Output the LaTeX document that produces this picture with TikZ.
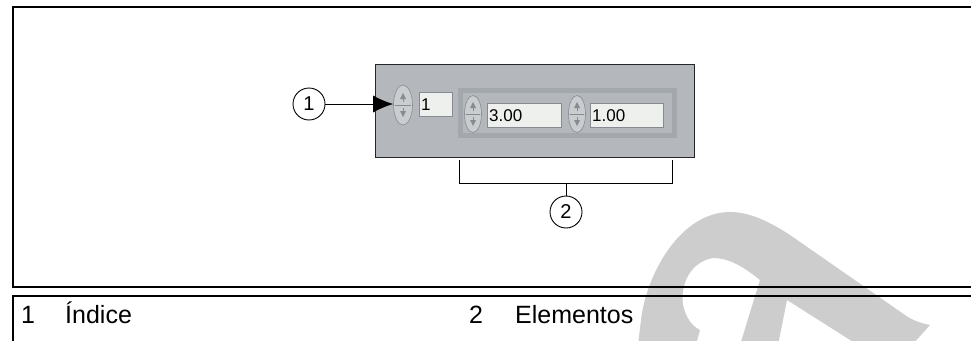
\documentclass[tikz,border=0pt]{standalone}
\usepackage{fontspec}
\setmainfont{Liberation Sans}
\usepackage{tikz}
\usetikzlibrary{arrows.meta}
\usetikzlibrary{shapes.geometric}
\usetikzlibrary{positioning}
\definecolor{panelgrey}{HTML}{B4B8BC}
\definecolor{groove}{HTML}{A3A8AD}
\definecolor{spinfill}{HTML}{C9CDD0}
\definecolor{spinedge}{HTML}{868B90}
\definecolor{fieldfill}{HTML}{EEF0EE}
\definecolor{watermark}{HTML}{CDCDCD}

\begin{document}
\begin{tikzpicture}[
	x=1pt, y=-1pt,
  > = {Latex[length=20pt,width=17pt]},
  frame/.style = {line width=2pt},
  callout/.style = {draw,circle,line width=0.9pt,minimum size=32pt,inner sep=0pt,font=\fontsize{20}{20}\selectfont},
  spinner/.style = {draw=spinedge,fill=spinfill,ellipse,line width=0.6pt,minimum width=19pt,minimum height=40pt,inner sep=0pt},
  field/.style = {fill=fieldfill,draw=spinedge,line width=0.4pt,anchor=north west,minimum height=24pt,inner sep=2pt,align=left,font=\fontsize{17}{17}\selectfont},
  legend/.style = {anchor=base west,inner sep=0pt,font=\fontsize{25}{25}\selectfont}
  ]
	\useasboundingbox (0,0) rectangle (971,340);

	\fill[watermark] (638,345) -- (641,320)
		.. controls (646,275) and (680,212) .. (730,212)
		.. controls (750,212) and (770,222) .. (790,235) -- (905,315)
		.. controls (912,320) and (920,323) .. (930,325) -- (912,345) -- (858,345)
		-- (787,300) -- (778,345) -- (740,345) -- (760,280)
		.. controls (745,268) and (730,258) .. (713,258)
		.. controls (690,262) and (680,285) .. (683,305)
		.. controls (686,318) and (692,326) .. (700,330) -- (696,345) -- cycle;

	\draw[frame] (975,7) -- (13,7) -- (13,287) -- (975,287);
	\draw[frame] (975,296) -- (13,296) -- (13,345);

	\node[draw=black!85,fill=panelgrey,line width=1.2pt,anchor=north west,minimum width=319pt,minimum height=93pt,inner sep=0pt] (panel) at (375,64) {};
	\node[fill=groove,anchor=north west,minimum width=219pt,minimum height=50pt,inner sep=0pt] (cluster) at (458,88) {};
	\node[fill=panelgrey,anchor=north west,minimum width=209pt,minimum height=40pt,inner sep=0pt] (inner) at (463,93) {};

	\node[spinner] (s1) at (403,105) {};
	\node[spinner,minimum width=17pt,minimum height=37pt] (s2) at (473,114) {};
	\node[spinner,minimum width=17pt,minimum height=37pt] (s3) at (577,114) {};
	\foreach \s in {s1,s2,s3} {
		\draw[spinedge,line width=0.6pt] ([xshift=1.5pt]\s.west) -- ([xshift=-1.5pt]\s.east);
		\begin{scope}[shift={(\s.center)}]
			\fill[spinedge] (0,-12) -- (-3,-6) -- (3,-6) -- cycle;
			\draw[spinedge,line width=0.6pt] (0,-7) -- (0,-3);
			\fill[spinedge] (0,12) -- (-3,6) -- (3,6) -- cycle;
			\draw[spinedge,line width=0.6pt] (0,7) -- (0,3);
		\end{scope}
	}

	\node[field,minimum width=33pt,text width=29pt] (f1) at (419,92) {1};
	\node[field,minimum width=74pt,text width=70pt] (f2) at (487,103) {3.00};
	\node[field,minimum width=73pt,text width=69pt] (f3) at (590,103) {1.00};

	\node[callout] (c1) at (309,104) {1};
	\node[callout] (c2) at (566,212) {2};

	\draw[->,line width=0.9pt] (c1.east) -- (s1.west |- c1.east);

	\coordinate (@bl) at (459,160);
	\coordinate (@br) at (672,160);
	\coordinate (@stem) at (566,183);
	\draw[line width=0.9pt] (@bl) -- (@bl |- @stem) -- (@br |- @stem) -- (@br);
	\draw[line width=0.9pt] (c2) -- (@stem);

	\node[legend] (n1) at (21,323) {1};
	\node[legend] (t1) at (65,323) {Índice};
	\node[legend] (n2) at (469,323) {2};
	\node[legend] (t2) at (515,323) {Elementos};

\end{tikzpicture}
\end{document}
